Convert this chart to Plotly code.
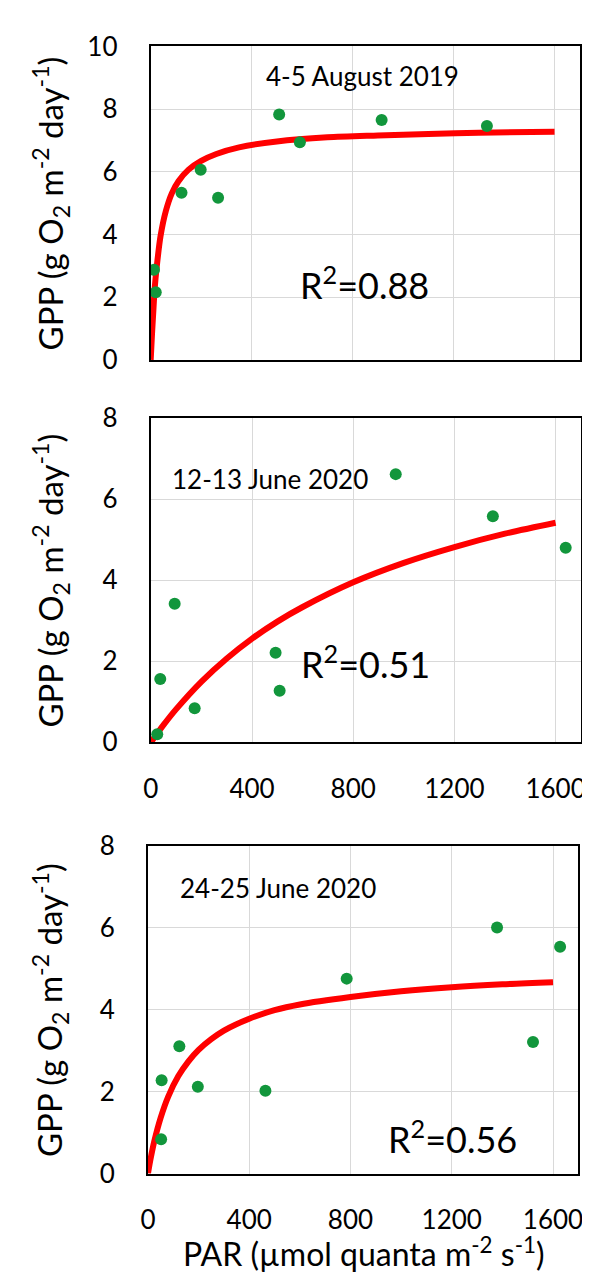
import plotly.graph_objects as go

W, H = 590, 1280
FONT = "Lato"

# ---------------- data ----------------
par_aug = [13, 20, 122, 198, 267, 509, 591, 915, 1332]
gpp_aug = [2.88, 2.16, 5.33, 6.07, 5.17, 7.83, 6.94, 7.65, 7.46]
fit_x_aug = [0, 5, 10, 16, 24, 39, 60, 84, 110, 150, 200, 260, 350, 500, 700, 900, 1100, 1300, 1600]
fit_y_aug = [0, 0.8, 1.5, 2.3, 2.98, 3.95, 4.75, 5.32, 5.7, 6.07, 6.35, 6.57, 6.78, 6.97, 7.1, 7.16, 7.21, 7.25, 7.28]

par_j12 = [25, 37, 94, 173, 493, 509, 968, 1352, 1640]
gpp_j12 = [0.20, 1.56, 3.42, 0.84, 2.21, 1.27, 6.62, 5.58, 4.80]
fit_x_j12 = [0, 50, 100, 200, 300, 400, 500, 600, 800, 1000, 1200, 1400, 1600]
fit_y_j12 = [0, 0.43, 0.82, 1.50, 2.07, 2.56, 2.98, 3.34, 3.95, 4.43, 4.82, 5.15, 5.42]

par_j24 = [52, 54, 124, 197, 464, 785, 1379, 1521, 1628]
gpp_j24 = [0.84, 2.28, 3.11, 2.12, 2.02, 4.76, 6.01, 3.21, 5.54]
fit_x_j24 = [0, 10, 25, 50, 80, 120, 160, 200, 250, 300, 400, 500, 600, 800, 1000, 1200, 1400, 1600]
fit_y_j24 = [0, 0.35, 0.79, 1.36, 1.88, 2.38, 2.74, 3.02, 3.28, 3.49, 3.78, 3.99, 4.13, 4.31, 4.45, 4.55, 4.62, 4.67]

titles = ["4-5 August 2019", "12-13 June 2020", "24-25 June 2020"]
r2_labels = ["0.88", "0.51", "0.56"]
x_ticks = [0, 400, 800, 1200, 1600]
y_max = [10, 8, 8]

# ---------------- layout geometry (pixels) ----------------
boxes = [  # x0, x1, ytop, ybottom
    (137.5, 575.5, 22, 343.5),
    (137.7, 576.6, 403.3, 735.7),
    (134.7, 574.0, 842, 1178),
]
title_pos = [(840, 9.05), (469, 6.51), (512, 6.98)]
r2_pos = [(848, 2.44), (849, 1.99), (1203, 0.9)]

GREEN = "#12963c"
RED = "#ff0000"

fig = go.Figure()
series = [
    (par_aug, gpp_aug, fit_x_aug, fit_y_aug),
    (par_j12, gpp_j12, fit_x_j12, fit_y_j12),
    (par_j24, gpp_j24, fit_x_j24, fit_y_j24),
]
for i, (px, py, fx, fy) in enumerate(series):
    ax = "" if i == 0 else str(i + 1)
    fig.add_trace(go.Scatter(x=fx, y=fy, mode="lines",
                             line=dict(color=RED, width=6, shape="spline", smoothing=0.8),
                             xaxis="x" + ax, yaxis="y" + ax, showlegend=False, hoverinfo="skip"))
    fig.add_trace(go.Scatter(x=px, y=py, mode="markers",
                             marker=dict(color=GREEN, size=12),
                             xaxis="x" + ax, yaxis="y" + ax, showlegend=False))

layout = dict(
    width=W, height=H,
    margin=dict(l=0, r=0, t=0, b=0),
    paper_bgcolor="white", plot_bgcolor="white",
    font=dict(family=FONT, size=26, color="black"),
    showlegend=False,
)
annotations = []
for i, (x0, x1, yt, yb) in enumerate(boxes):
    sfx = "" if i == 0 else str(i + 1)
    layout["xaxis" + sfx] = dict(
        domain=[x0 / W, x1 / W], range=[0, 1700], anchor="y" + sfx,
        tickmode="array", tickvals=x_ticks, ticktext=[str(v) for v in x_ticks],
        showticklabels=(i != 0), ticks="", ticklabelstandoff=22,
        showgrid=True, gridcolor="#d9d9d9", gridwidth=1, zeroline=False,
        showline=True, linecolor="black", linewidth=2, mirror=True,
        tickfont=dict(size=26, family=FONT),
    )
    layout["yaxis" + sfx] = dict(
        domain=[1 - yb / H, 1 - yt / H], range=[0, y_max[i]], anchor="x" + sfx,
        tickmode="linear", tick0=0, dtick=2, ticks="", ticklabelstandoff=26,
        showgrid=True, gridcolor="#d9d9d9", gridwidth=1, zeroline=False,
        showline=True, linecolor="black", linewidth=2, mirror=True,
        tickfont=dict(size=26, family=FONT),
    )
    annotations.append(dict(
        text="GPP (g O<sub>2</sub> m<sup>-2</sup> day<sup>-1</sup>)",
        textangle=-90, xref="paper", yref="paper",
        x=35 / W, y=1 - ((yt + yb) / 2) / H, xanchor="center", yanchor="middle",
        showarrow=False, font=dict(size=33, family=FONT)))
    annotations.append(dict(
        text=titles[i], xref="x" + sfx, yref="y" + sfx,
        x=title_pos[i][0], y=title_pos[i][1], xanchor="center", yanchor="middle",
        showarrow=False, font=dict(size=26, family=FONT)))
    annotations.append(dict(
        text="R<sup>2</sup>=" + r2_labels[i], xref="x" + sfx, yref="y" + sfx,
        x=r2_pos[i][0], y=r2_pos[i][1], xanchor="center", yanchor="middle",
        showarrow=False, font=dict(size=36, family=FONT)))

annotations.append(dict(
    text="PAR (µmol quanta m<sup>-2</sup> s<sup>-1</sup>)",
    xref="paper", yref="paper", x=355 / W, y=1 - 1258 / H,
    xanchor="center", yanchor="middle", showarrow=False,
    font=dict(size=32, family=FONT)))
layout["annotations"] = annotations
fig.update_layout(**layout)
fig.write_html("out.html")
